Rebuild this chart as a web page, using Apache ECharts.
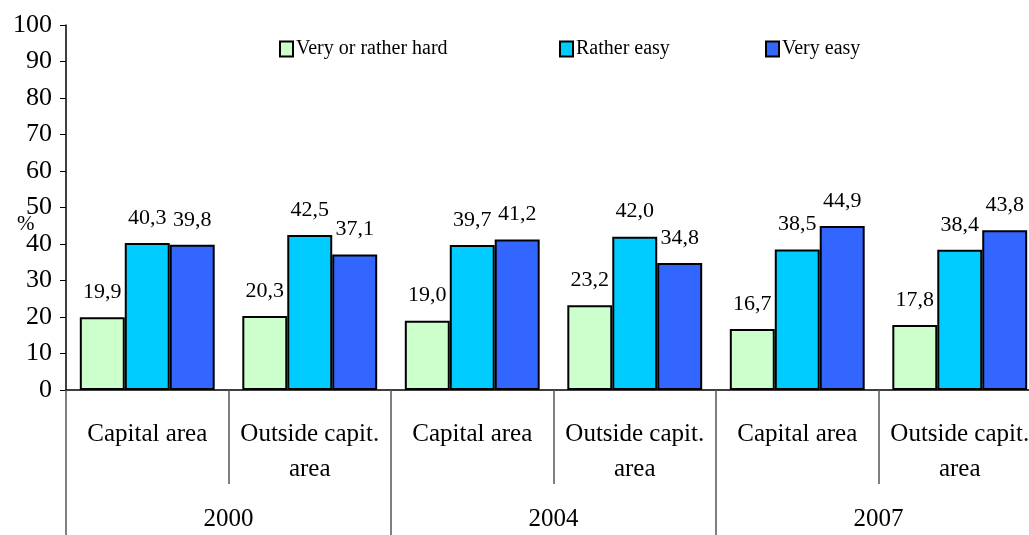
<!DOCTYPE html>
<html>
<head>
<meta charset="utf-8">
<script src="https://cdn.jsdelivr.net/npm/echarts@6/dist/echarts.min.js"></script>
<style>
  html, body { margin: 0; padding: 0; background: #fff; }
  #chart { width: 1029px; height: 535px; }
</style>
</head>
<body>
<div id="chart"></div>
<script>
  // categories
  let areas = ['Capital area', 'Outside capit.\narea', 'Capital area', 'Outside capit.\narea', 'Capital area', 'Outside capit.\narea'];
  let years = ['2000', '2004', '2007'];
  let yTicks = [0, 10, 20, 30, 40, 50, 60, 70, 80, 90, 100];
  // series values (%)
  let hard = [19.9, 20.3, 19.0, 23.2, 16.7, 17.8];
  let ratherEasy = [40.3, 42.5, 39.7, 42.0, 38.5, 38.4];
  let veryEasy = [39.8, 37.1, 41.2, 34.8, 44.9, 43.8];

  let font = 'Liberation Serif';
  let myChart = echarts.init(document.getElementById('chart'));

  function bar(name, data, color) {
    return {
      name: name,
      type: 'bar',
      data: data,
      barGap: 0,
      barCategoryGap: '17%',
      itemStyle: {
        color: color,
        borderColor: '#000',
        borderWidth: 2
      },
      label: {
        show: true,
        position: 'top',
        distance: 14,
        color: '#000',
        fontFamily: font,
        fontSize: 22,
        formatter: p => p.value.toFixed(1).replace('.', ',')
      }
    };
  }

  function legend(name, left) {
    return {
      data: [name],
      left: left,
      top: 34,
      itemWidth: 13,
      itemHeight: 15,
      itemGap: 0,
      icon: 'rect',
      itemStyle: { borderColor: '#000', borderWidth: 2 },
      textStyle: { fontFamily: font, fontSize: 20, color: '#000', padding: [0, 0, 0, -2] }
    };
  }

  let option = {
    backgroundColor: '#fff',
    animation: false,
    legend: [
      legend('Very or rather hard', 274),
      legend('Rather easy', 554),
      legend('Very easy', 760)
    ],
    // axis unit
    graphic: [{
      type: 'text',
      left: 17,
      top: 214,
      style: { text: '%', fontFamily: font, fontSize: 21, fill: '#000' }
    }],
    grid: {
      left: 66,
      top: 25,
      width: 975,
      height: 365,
      outerBoundsMode: 'none',
      containLabel: false
    },
    xAxis: [{
      type: 'category',
      data: areas,
      position: 'bottom',
      axisLine: { lineStyle: { color: '#000', width: 1.5 } },
      axisTick: { show: true, interval: 0, length: 94, lineStyle: { color: '#555', width: 1.5 } },
      axisLabel: {
        interval: 0,
        margin: 27,
        color: '#000',
        fontFamily: font,
        fontSize: 25,
        lineHeight: 35,
        verticalAlign: 'top'
      }
    }, {
      type: 'category',
      data: years,
      position: 'bottom',
      axisLine: { show: false },
      axisTick: { show: true, interval: 0, length: 145, lineStyle: { color: '#555', width: 1.5 } },
      axisLabel: {
        interval: 0,
        margin: 117,
        color: '#000',
        fontFamily: font,
        fontSize: 25,
        verticalAlign: 'top'
      }
    }],
    yAxis: {
      type: 'value',
      min: yTicks[0],
      max: yTicks[yTicks.length - 1],
      interval: 10,
      splitLine: { show: false },
      axisLine: { show: true, lineStyle: { color: '#000', width: 1.5 } },
      axisTick: { show: true, length: 6, lineStyle: { color: '#000' } },
      axisLabel: {
        margin: 14,
        color: '#000',
        fontFamily: font,
        fontSize: 26
      }
    },
    series: [
      bar('Very or rather hard', hard, '#CCFFCC'),
      bar('Rather easy', ratherEasy, '#00CCFF'),
      bar('Very easy', veryEasy, '#3366FF')
    ]
  };
  myChart.setOption(option);
</script>
</body>
</html>
